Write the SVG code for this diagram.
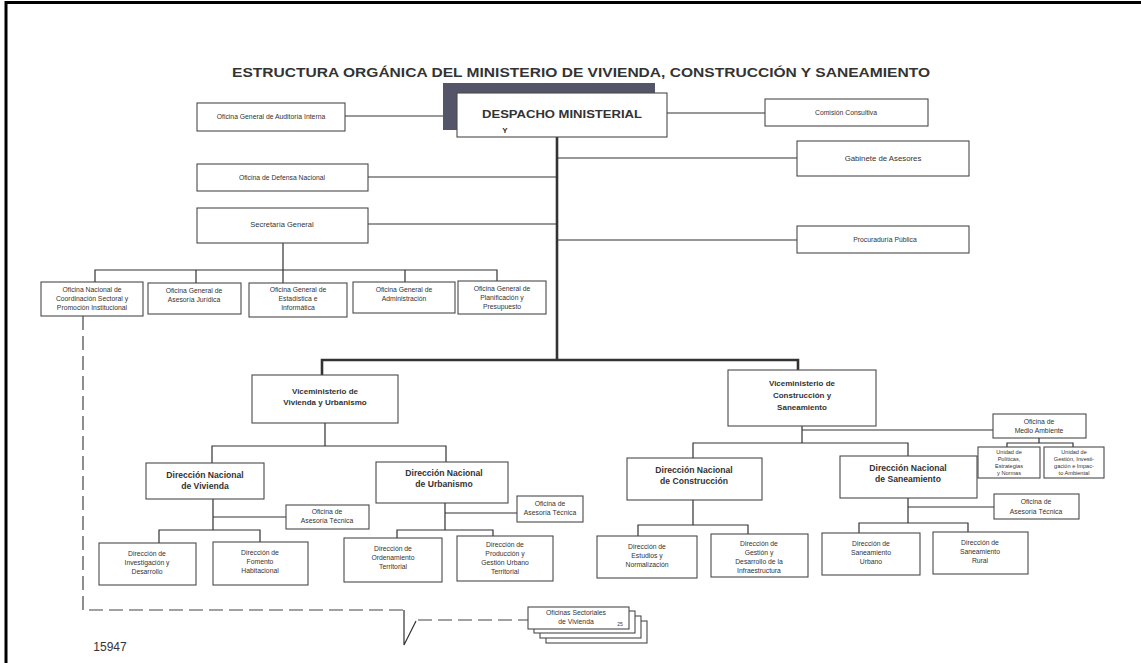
<svg xmlns="http://www.w3.org/2000/svg" width="1141" height="663" viewBox="0 0 1141 663">
<style>
.bx{fill:#fff;stroke:#4a4a4a;stroke-width:1.1}
.ln{stroke:#333;stroke-width:1.2;fill:none}
.tk{stroke:#333;stroke-width:2.6;fill:none}
.ds{stroke:#444;stroke-width:1.2;fill:none;stroke-dasharray:14 6}
text{font-family:"Liberation Sans",Arial,sans-serif;fill:#333;text-anchor:middle}
.s{font-size:6.8px}
.xs{font-size:5.6px}
.b{font-size:8.6px;font-weight:bold}
.v{font-size:8px;font-weight:bold}
</style>
<rect width="1141" height="663" fill="#fff"/>
<path d="M6 663 V2.5 H1141" stroke="#000" stroke-width="3" fill="none"/>
<text x="581" y="77" font-size="13.5" font-weight="bold" textLength="698" lengthAdjust="spacingAndGlyphs">ESTRUCTURA ORGÁNICA DEL MINISTERIO DE VIVIENDA, CONSTRUCCIÓN Y SANEAMIENTO</text>

<g id="connectors">
<line class="ln" x1="345" y1="116" x2="443" y2="116"/>
<line class="ln" x1="667" y1="113" x2="765" y2="113"/>
<line class="tk" x1="557" y1="137" x2="557" y2="360"/>
<line class="ln" x1="557" y1="158" x2="797" y2="158"/>
<line class="ln" x1="368" y1="177" x2="557" y2="177"/>
<line class="ln" x1="368" y1="224" x2="557" y2="224"/>
<line class="ln" x1="557" y1="240" x2="797" y2="240"/>
<path class="ln" d="M283 243 V270 M95 282 V270 H497 V281 M196 270 V283 M283 270 V283 M405 270 V282"/>
<path class="tk" d="M322 375 V360 H798 V370"/>
<path class="ln" d="M325 423 V446 M212 463 V446 H446 V462"/>
<path class="ln" d="M213 499 V530 M213 517 H286 M159 543 V530 H260 V542"/>
<path class="ln" d="M445 503 V530 M445 513 H517 M397 538 V530 H493 V536"/>
<path class="ln" d="M802 426 V443 M802 430 H993 M693 458 V443 H908 V456"/>
<path class="ln" d="M1039 438 V443 M1007 447 V443 H1073 V447"/>
<path class="ln" d="M693 500 V525 M638 536 V525 H748 V534"/>
<path class="ln" d="M908 498 V523 M908 507 H994 M859 533 V523 H968 V532"/>
<path class="ds" d="M83 316 V610 H404"/>
<path class="ln" d="M404 610 V645 L416 621"/>
<path class="ds" d="M418 620 H528"/>
</g>

<g id="despacho">
<rect x="443" y="83" width="212" height="47" fill="#55556a"/>
<rect class="bx" x="457" y="93" width="210" height="44"/>
<text x="562" y="118" font-size="11" font-weight="bold" textLength="160" lengthAdjust="spacingAndGlyphs">DESPACHO MINISTERIAL</text>
<text x="505" y="133" font-size="8" font-weight="bold">Y</text>
</g>
<g id="auditoria"><rect class="bx" x="197" y="103" width="148" height="28"/><text class="s" x="271" y="119">Oficina General de Auditoría Interna</text></g>
<g id="comision"><rect class="bx" x="765" y="99" width="163" height="27"/><text class="s" x="846" y="115">Comisión Consultiva</text></g>
<g id="gabinete"><rect class="bx" x="797" y="141" width="172" height="35"/><text x="883" y="161" font-size="7.8">Gabinete de Asesores</text></g>
<g id="defensa"><rect class="bx" x="197" y="164" width="171" height="27"/><text class="s" x="282" y="180">Oficina de Defensa Nacional</text></g>
<g id="secretaria"><rect class="bx" x="197" y="208" width="171" height="35"/><text x="282" y="227" font-size="7.5">Secretaría General</text></g>
<g id="procuraduria"><rect class="bx" x="797" y="226" width="172" height="27"/><text class="s" x="885" y="242">Procuraduría Pública</text></g>

<g id="coordinacion"><rect class="bx" x="41" y="282" width="102" height="34"/><text class="s" x="92" y="292">Oficina Nacional de</text><text class="s" x="92" y="301">Coordinación Sectoral y</text><text class="s" x="92" y="310">Promoción Institucional</text></g>
<g id="juridica"><rect class="bx" x="148" y="283" width="93" height="31"/><text class="s" x="194" y="293">Oficina General de</text><text class="s" x="194" y="302">Asesoría Jurídica</text></g>
<g id="estadistica"><rect class="bx" x="249" y="283" width="98" height="34"/><text class="s" x="298" y="292">Oficina General de</text><text class="s" x="298" y="301">Estadística e</text><text class="s" x="298" y="310">Informática</text></g>
<g id="administracion"><rect class="bx" x="353" y="282" width="102" height="31"/><text class="s" x="404" y="292">Oficina General de</text><text class="s" x="404" y="301">Administración</text></g>
<g id="planificacion"><rect class="bx" x="458" y="281" width="88" height="33"/><text class="s" x="502" y="291">Oficina General de</text><text class="s" x="502" y="300">Planificación y</text><text class="s" x="502" y="309">Presupuesto</text></g>

<g id="vice-vivienda"><rect class="bx" x="252" y="375" width="146" height="48"/><text class="v" x="325" y="394">Viceministerio de</text><text class="v" x="325" y="405">Vivienda y Urbanismo</text></g>
<g id="vice-construccion"><rect class="bx" x="728" y="370" width="148" height="56"/><text class="v" x="802" y="386">Viceministerio de</text><text class="v" x="802" y="398">Construcción y</text><text class="v" x="802" y="410">Saneamiento</text></g>

<g id="dn-vivienda"><rect class="bx" x="146" y="463" width="118" height="36"/><text class="b" x="205" y="478">Dirección Nacional</text><text class="b" x="205" y="489">de Vivienda</text></g>
<g id="dn-urbanismo"><rect class="bx" x="376" y="462" width="132" height="41"/><text class="b" x="444" y="476">Dirección Nacional</text><text class="b" x="444" y="487">de Urbanismo</text></g>
<g id="asesoria-vivienda"><rect class="bx" x="286" y="505" width="83" height="24"/><text class="s" x="327" y="514">Oficina de</text><text class="s" x="327" y="523">Asesoría Técnica</text></g>
<g id="asesoria-urbanismo"><rect class="bx" x="517" y="496" width="66" height="26"/><text class="s" x="550" y="506">Oficina de</text><text class="s" x="550" y="515">Asesoría Técnica</text></g>
<g id="investigacion"><rect class="bx" x="99" y="543" width="97" height="42"/><text class="s" x="147" y="556">Dirección de</text><text class="s" x="147" y="565">Investigación y</text><text class="s" x="147" y="574">Desarrollo</text></g>
<g id="fomento"><rect class="bx" x="213" y="542" width="95" height="43"/><text class="s" x="260" y="555">Dirección de</text><text class="s" x="260" y="564">Fomento</text><text class="s" x="260" y="573">Habitacional</text></g>
<g id="ordenamiento"><rect class="bx" x="344" y="538" width="98" height="44"/><text class="s" x="393" y="551">Dirección de</text><text class="s" x="393" y="560">Ordenamiento</text><text class="s" x="393" y="569">Territorial</text></g>
<g id="produccion"><rect class="bx" x="457" y="536" width="96" height="45"/><text class="s" x="505" y="547">Dirección de</text><text class="s" x="505" y="556">Producción y</text><text class="s" x="505" y="565">Gestión Urbano</text><text class="s" x="505" y="574">Territorial</text></g>

<g id="medio-ambiente"><rect class="bx" x="993" y="414" width="93" height="24"/><text class="s" x="1039" y="424">Oficina de</text><text class="s" x="1039" y="433">Medio Ambiente</text></g>
<g id="unidad-politicas"><rect class="bx" x="978" y="447" width="62" height="31"/><text class="xs" x="1009" y="454">Unidad de</text><text class="xs" x="1009" y="461">Políticas,</text><text class="xs" x="1009" y="468">Estrategias</text><text class="xs" x="1009" y="475">y Normas</text></g>
<g id="unidad-gestion"><rect class="bx" x="1044" y="447" width="60" height="31"/><text class="xs" x="1074" y="454">Unidad de</text><text class="xs" x="1074" y="461">Gestión, Investi-</text><text class="xs" x="1074" y="468">gación e Impac-</text><text class="xs" x="1074" y="475">to Ambiental</text></g>
<g id="dn-construccion"><rect class="bx" x="627" y="458" width="135" height="42"/><text class="b" x="694" y="473">Dirección Nacional</text><text class="b" x="694" y="484">de Construcción</text></g>
<g id="dn-saneamiento"><rect class="bx" x="840" y="456" width="137" height="42"/><text class="b" x="908" y="471">Dirección Nacional</text><text class="b" x="908" y="482">de Saneamiento</text></g>
<g id="asesoria-saneamiento"><rect class="bx" x="994" y="494" width="85" height="25"/><text class="s" x="1036" y="504">Oficina de</text><text class="s" x="1036" y="514">Asesoría Técnica</text></g>
<g id="estudios"><rect class="bx" x="597" y="536" width="100" height="42"/><text class="s" x="647" y="549">Dirección de</text><text class="s" x="647" y="558">Estudios y</text><text class="s" x="647" y="567">Normalización</text></g>
<g id="gestion"><rect class="bx" x="711" y="534" width="97" height="43"/><text class="s" x="759" y="546">Dirección de</text><text class="s" x="759" y="555">Gestión y</text><text class="s" x="759" y="564">Desarrollo de la</text><text class="s" x="759" y="573">Infraestructura</text></g>
<g id="san-urbano"><rect class="bx" x="822" y="533" width="98" height="42"/><text class="s" x="871" y="546">Dirección de</text><text class="s" x="871" y="555">Saneamiento</text><text class="s" x="871" y="564">Urbano</text></g>
<g id="san-rural"><rect class="bx" x="933" y="532" width="95" height="42"/><text class="s" x="980" y="545">Dirección de</text><text class="s" x="980" y="554">Saneamiento</text><text class="s" x="980" y="563">Rural</text></g>

<g id="oficinas-sectoriales">
<rect class="bx" x="546" y="621" width="101" height="22"/>
<rect class="bx" x="540" y="616" width="101" height="22"/>
<rect class="bx" x="534" y="611" width="101" height="22"/>
<rect class="bx" x="528" y="607" width="101" height="22"/>
<text class="s" x="576" y="615">Oficinas Sectoriales</text>
<text class="s" x="576" y="624">de Vivienda</text>
<text x="620" y="626" font-size="5">25</text>
</g>
<text x="110" y="651" font-size="12">15947</text>
</svg>
